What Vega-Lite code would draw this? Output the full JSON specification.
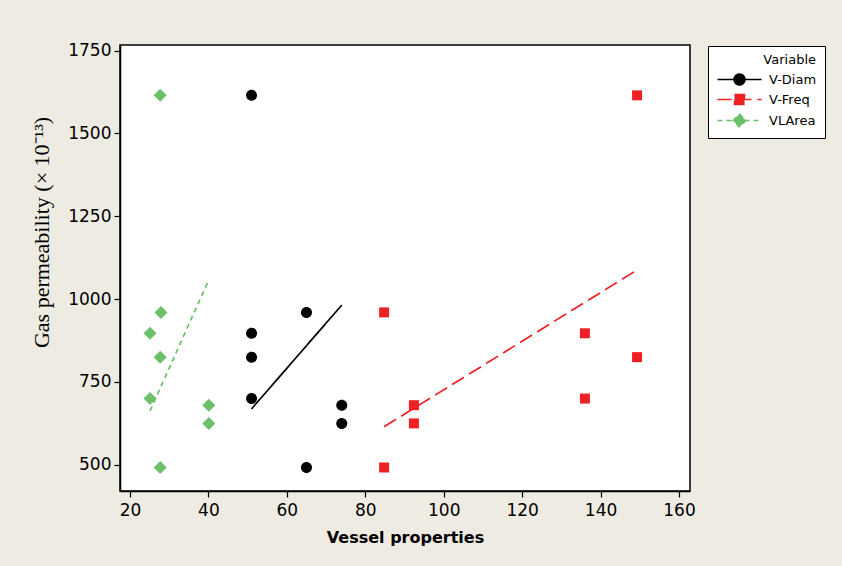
{
  "$schema": "https://vega.github.io/schema/vega-lite/v6.json",
  "autosize": "none",
  "padding": {"left": 120, "top": 45, "right": 152, "bottom": 75},
  "width": 570,
  "height": 446,
  "background": "#EEEBE2",
  "datasets": {
    "points": [
      {"series": "V-Diam", "x": 51, "y": 1615},
      {"series": "V-Diam", "x": 51, "y": 897},
      {"series": "V-Diam", "x": 51, "y": 825},
      {"series": "V-Diam", "x": 51, "y": 700},
      {"series": "V-Diam", "x": 65, "y": 960},
      {"series": "V-Diam", "x": 74, "y": 680},
      {"series": "V-Diam", "x": 74, "y": 625},
      {"series": "V-Diam", "x": 65, "y": 492},
      {"series": "V-Freq", "x": 149.3, "y": 1615},
      {"series": "V-Freq", "x": 84.8, "y": 960},
      {"series": "V-Freq", "x": 136, "y": 897},
      {"series": "V-Freq", "x": 149.3, "y": 825},
      {"series": "V-Freq", "x": 136, "y": 700},
      {"series": "V-Freq", "x": 92.4, "y": 680},
      {"series": "V-Freq", "x": 92.4, "y": 625},
      {"series": "V-Freq", "x": 84.8, "y": 492},
      {"series": "VLArea", "x": 27.7, "y": 1615},
      {"series": "VLArea", "x": 25.1, "y": 897},
      {"series": "VLArea", "x": 27.9, "y": 960},
      {"series": "VLArea", "x": 27.7, "y": 825},
      {"series": "VLArea", "x": 25.1, "y": 700},
      {"series": "VLArea", "x": 40.1, "y": 680},
      {"series": "VLArea", "x": 40.1, "y": 625},
      {"series": "VLArea", "x": 27.7, "y": 492}
    ],
    "fits": [
      {"series": "V-Diam", "x": 51, "y": 669},
      {"series": "V-Diam", "x": 74, "y": 982},
      {"series": "V-Freq", "x": 84.8, "y": 615},
      {"series": "V-Freq", "x": 149.3, "y": 1088},
      {"series": "VLArea", "x": 25.1, "y": 663},
      {"series": "VLArea", "x": 40.1, "y": 1058}
    ]
  },
  "encoding": {
    "x": {
      "field": "x", "type": "quantitative",
      "scale": {"domain": [17.45, 162.8], "nice": false, "zero": false},
      "axis": {
        "values": [20, 40, 60, 80, 100, 120, 140, 160],
        "format": "d",
        "title": "Vessel properties"
      }
    },
    "y": {
      "field": "y", "type": "quantitative",
      "scale": {"domain": [421, 1767], "nice": false, "zero": false},
      "axis": {
        "values": [500, 750, 1000, 1250, 1500, 1750],
        "format": "d",
        "title": "Gas permeability (× 10⁻¹³)",
        "titleFont": "Liberation Serif",
        "titleFontSize": 22,
        "titleFontWeight": "normal",
        "titlePadding": 14,
        "titleY": 187
      }
    }
  },
  "layer": [
    {
      "data": {"name": "fits"},
      "mark": {"type": "line", "strokeWidth": 1.7},
      "encoding": {
        "detail": {"field": "series"},
        "stroke": {
          "field": "series", "type": "nominal", "legend": {"title": "Variable"},
          "scale": {"domain": ["V-Diam", "V-Freq", "VLArea"], "range": ["#000000", "#ED2024", "#6CC06A"]}
        },
        "strokeDash": {
          "field": "series", "type": "nominal", "legend": {"title": "Variable"},
          "scale": {"domain": ["V-Diam", "V-Freq", "VLArea"], "range": [[1, 0], [14, 6], [5, 4]]}
        }
      }
    },
    {
      "data": {"name": "points"},
      "transform": [{"filter": "datum.series === 'V-Diam'"}],
      "mark": {"type": "point", "filled": true, "opacity": 1, "size": 100, "color": "#000000",
        "shape": "M-1.1,0A1.1,1.1,0,1,1,1.1,0A1.1,1.1,0,1,1,-1.1,0Z"},
      "encoding": {}
    },
    {
      "data": {"name": "points"},
      "transform": [{"filter": "datum.series === 'V-Freq'"}],
      "mark": {"type": "point", "filled": true, "opacity": 1, "size": 100, "color": "#ED2024",
        "shape": "M-1,-1H1V1H-1Z"},
      "encoding": {}
    },
    {
      "data": {"name": "points"},
      "transform": [{"filter": "datum.series === 'VLArea'"}],
      "mark": {"type": "point", "filled": true, "opacity": 1, "size": 100, "color": "#6CC06A",
        "shape": "M-1.3,0L0,-1.3L1.3,0L0,1.3Z"},
      "encoding": {}
    },
    {
      "data": {"name": "points"},
      "transform": [{"filter": "false"}],
      "mark": {"type": "point", "filled": true, "opacity": 1, "size": 100, "strokeWidth": 1.5},
      "encoding": {
        "fill": {
          "field": "series", "type": "nominal", "legend": {"title": "Variable"},
          "scale": {"domain": ["V-Diam", "V-Freq", "VLArea"], "range": ["#000000", "#ED2024", "#6CC06A"]}
        },
        "stroke": {"field": "series", "type": "nominal", "legend": {"title": "Variable"}},
        "strokeDash": {"field": "series", "type": "nominal", "legend": {"title": "Variable"}},
        "shape": {
          "field": "series", "type": "nominal", "legend": {"title": "Variable"},
          "scale": {
            "domain": ["V-Diam", "V-Freq", "VLArea"],
            "range": [
              "M-1,0H7.8M2.3,0A1.1,1.1,0,1,1,4.5,0A1.1,1.1,0,1,1,2.3,0Z",
              "M-1,0H7.8M2.4,-1H4.4V1H2.4Z",
              "M-1,0H7.8M2.1,0L3.4,-1.3L4.7,0L3.4,1.3Z"
            ]
          }
        }
      }
    }
  ],
  "config": {
    "view": {"fill": "white", "stroke": "black", "strokeWidth": 1.5},
    "axis": {
      "grid": false,
      "domainColor": "black",
      "domainWidth": 1.5,
      "tickColor": "black",
      "tickWidth": 1.2,
      "tickSize": 6,
      "labelFont": "DejaVu Sans",
      "labelFontSize": 17,
      "labelColor": "black",
      "labelPadding": 3,
      "titleFont": "DejaVu Sans",
      "titleFontSize": 16,
      "titleFontWeight": "bold",
      "titleColor": "black"
    },
    "axisX": {"titlePadding": 11, "labelPadding": 5},
    "legend": {
      "orient": "none",
      "legendX": 588,
      "legendY": 1,
      "fillColor": "white",
      "strokeColor": "black",
      "padding": 8,
      "symbolSize": 100,
      "symbolStrokeWidth": 1.5,
      "symbolOpacity": 1,
      "labelOffset": 40,
      "labelFont": "DejaVu Sans",
      "labelFontSize": 13,
      "labelColor": "black",
      "titleFont": "DejaVu Sans",
      "titleFontSize": 13,
      "titleFontWeight": "normal",
      "titleColor": "black",
      "titleAnchor": "end",
      "titlePadding": 6,
      "rowPadding": 3
    }
  }
}
